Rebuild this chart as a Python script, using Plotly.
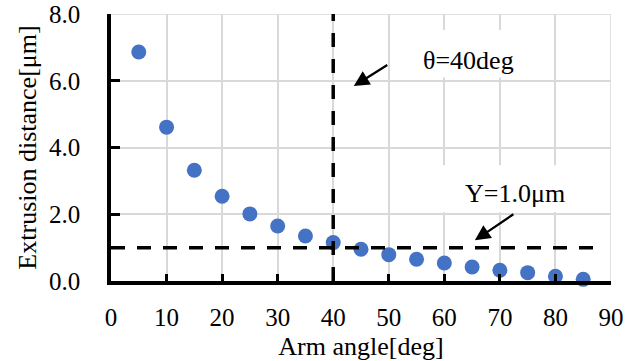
import plotly.graph_objects as go

angles = [5, 10, 15, 20, 25, 30, 35, 40, 45, 50, 55, 60, 65, 70, 75, 80, 85]
extrusion = [6.86, 4.61, 3.32, 2.54, 2.01, 1.65, 1.35, 1.15, 0.95, 0.79, 0.65, 0.54, 0.42, 0.32, 0.25, 0.14, 0.05]
x_ticks = [0, 10, 20, 30, 40, 50, 60, 70, 80, 90]
y_ticks = [0, 2, 4, 6, 8]
y_tick_labels = ["0.0", "2.0", "4.0", "6.0", "8.0"]
x_max = 90
y_max = 8
theta_line = 40
y_line = 1.0
y_line_end = 87.5

FONT = "Liberation Serif, Times New Roman, serif"

fig = go.Figure()
fig.add_trace(go.Scatter(
    x=angles, y=extrusion, mode="markers",
    marker=dict(color="#4472C4", size=15),
    cliponaxis=False, showlegend=False,
))

# light grey frame on top / right (gridlines at the range ends)
fig.add_shape(type="line", x0=0, x1=x_max, y0=y_max, y1=y_max, xref="x", yref="y",
              line=dict(color="#d9d9d9", width=1.5), layer="between")
fig.add_shape(type="line", x0=x_max, x1=x_max, y0=0, y1=y_max, xref="x", yref="y",
              line=dict(color="#d9d9d9", width=1.5), layer="between")

# white label boxes (hide gridlines behind the callout texts)
fig.add_shape(type="rect", x0=52.9, x1=76.3, y0=6.10, y1=7.52, xref="x", yref="y",
              fillcolor="white", line=dict(width=0), layer="between")
fig.add_shape(type="rect", x0=57.4, x1=85.3, y0=2.06, y1=3.47, xref="x", yref="y",
              fillcolor="white", line=dict(width=0), layer="between")

dash = "14px,12px"
fig.add_shape(type="line", x0=theta_line, x1=theta_line, y0=0, y1=y_max, xref="x", yref="y",
              line=dict(color="black", width=3.5, dash=dash), layer="above")
fig.add_shape(type="line", x0=0, x1=y_line_end, y0=y_line, y1=y_line, xref="x", yref="y",
              line=dict(color="black", width=3.5, dash=dash), layer="above")

fig.add_annotation(x=43.7, y=5.84, ax=50.0, ay=6.5, axref="x", ayref="y", xref="x", yref="y",
                   text="", showarrow=True, arrowhead=2, arrowsize=1.4, arrowwidth=2.2, arrowcolor="black")
fig.add_annotation(x=65.5, y=1.22, ax=72.7, ay=2.03, axref="x", ayref="y", xref="x", yref="y",
                   text="", showarrow=True, arrowhead=2, arrowsize=1.4, arrowwidth=2.2, arrowcolor="black")
fig.add_annotation(x=64.3, y=6.62, xref="x", yref="y", text="θ=40deg", showarrow=False,
                   font=dict(family=FONT, size=26, color="black"))
fig.add_annotation(x=72.7, y=2.63, xref="x", yref="y", text="Y=1.0μm", showarrow=False,
                   font=dict(family=FONT, size=26, color="black"))

fig.update_layout(
    width=637, height=361,
    margin=dict(l=111, r=26, t=14, b=80),
    plot_bgcolor="white", paper_bgcolor="white",
    font=dict(family=FONT, size=25, color="black"),
)
fig.update_xaxes(
    range=[0, x_max], tickvals=x_ticks, ticktext=[str(v) for v in x_ticks],
    showgrid=True, gridcolor="#d9d9d9", gridwidth=1.5,
    showline=True, linecolor="black", linewidth=3.5,
    ticks="inside", ticklen=7, tickwidth=3, tickcolor="black",
    ticklabelstandoff=11, zeroline=False, automargin=False,
    ticklabeloverflow="allow",
    tickfont=dict(family=FONT, size=25),
    title=dict(text="Arm angle[deg]", font=dict(family=FONT, size=26), standoff=10),
)
fig.update_yaxes(
    range=[0, y_max], tickvals=y_ticks, ticktext=y_tick_labels,
    showgrid=True, gridcolor="#d9d9d9", gridwidth=1.5,
    showline=True, linecolor="black", linewidth=3.5,
    ticks="inside", ticklen=9, tickwidth=3, tickcolor="black",
    ticklabelstandoff=22, zeroline=False, automargin=False,
    ticklabeloverflow="allow",
    tickfont=dict(family=FONT, size=25),
    title=dict(text="Extrusion distance[μm]", font=dict(family=FONT, size=26), standoff=6),
)
fig.write_html("out.html", config={"displayModeBar": False},
               post_script="document.body.style.margin='0px';")
